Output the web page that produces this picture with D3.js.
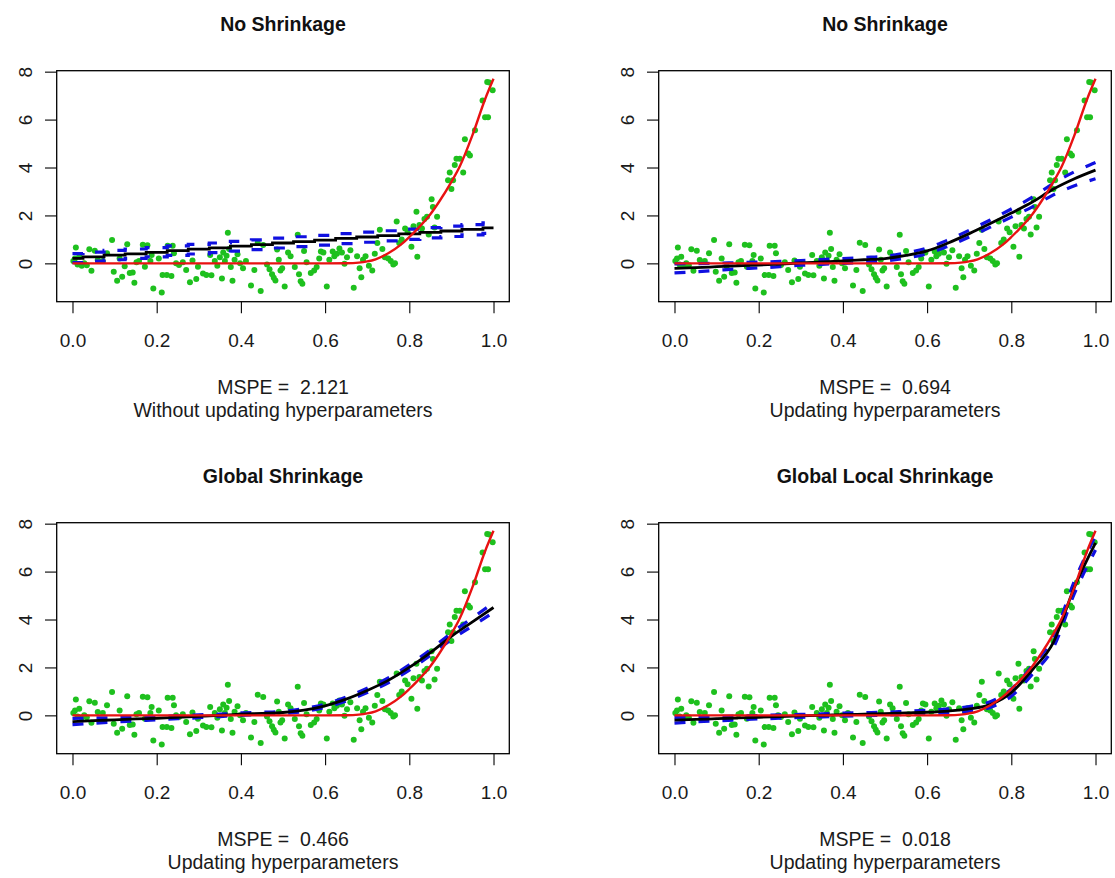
<!DOCTYPE html>
<html><head><meta charset="utf-8">
<script src="https://cdn.jsdelivr.net/npm/d3@7"></script>
<style>
body{margin:0;background:#fff}
svg{display:block}
text{font-family:"Liberation Sans",Arial,sans-serif}
</style>
</head><body>
<svg id="c" width="1115" height="878"></svg>
<script>
// ---------- data ----------
const obsX = [0.002,0.006,0.008,0.012,0.016,0.022,0.028,0.034,0.040,0.045,0.053,0.060,0.072,0.082,0.094,0.098,
0.106,0.112,0.118,0.124,0.130,0.136,0.143,0.147,0.152,0.158,0.167,0.172,0.178,0.185,0.188,0.192,
0.205,0.212,0.214,0.224,0.226,0.235,0.238,0.241,0.246,0.253,0.262,0.270,0.279,0.285,0.294,0.298,
0.310,0.318,0.327,0.330,0.338,0.344,0.350,0.355,0.358,0.362,0.366,0.369,0.372,0.376,0.380,0.385,0.392,0.398,
0.405,0.412,0.424,0.432,0.440,0.447,0.453,0.462,0.468,0.474,0.478,0.482,0.486,0.490,0.494,0.498,
0.504,0.512,0.518,0.528,0.535,0.538,0.542,0.546,0.550,0.556,0.566,0.574,0.580,0.586,0.590,0.596,
0.604,0.610,0.618,0.622,0.628,0.634,0.640,0.646,0.652,0.660,0.668,0.676,0.682,0.686,0.690,0.696,
0.704,0.712,0.718,0.724,0.730,0.736,0.742,0.750,0.756,0.762,0.766,0.770,0.776,0.782,0.790,0.796,
0.805,0.810,0.817,0.819,0.824,0.830,0.836,0.842,0.846,0.853,0.856,0.860,0.866,0.892,0.896,
0.900,0.904,0.908,0.912,0.920,0.928,0.932,0.940,0.944,0.956,0.974,0.980,0.987,0.985,0.990,0.998];
const obsY = [0.10,0.20,0.66,-0.05,0.28,-0.10,0.00,-0.08,0.59,-0.31,0.53,0.14,0.10,0.42,0.98,-0.35,
-0.73,0.20,-0.56,-0.12,0.80,-0.40,-0.38,-0.81,0.05,0.10,0.78,-0.14,0.76,0.10,0.35,-1.05,
0.20,-1.22,-0.49,-0.49,0.73,-0.53,0.73,0.42,0.00,-0.07,0.05,-0.28,-0.79,0.12,-0.65,-0.14,
-0.42,-0.49,0.35,-0.50,0.10,-0.10,0.25,-0.63,0.45,0.10,0.32,1.28,0.60,-0.15,-0.73,0.15,0.38,0.00,
-0.20,0.10,-0.92,-0.28,0.86,-1.15,0.77,-0.05,-0.25,-0.45,-0.60,-0.72,0.58,0.15,-0.30,-0.20,
-0.97,0.45,0.30,-0.15,1.19,-0.45,-0.75,-0.85,0.52,0.05,-0.40,-0.30,-0.15,0.20,0.50,0.45,
-0.97,0.15,0.50,0.30,0.40,0.62,0.45,-0.02,0.25,0.55,-1.02,0.30,-0.20,-0.58,0.15,0.30,
-0.10,-0.30,0.40,0.85,1.40,0.60,0.25,0.20,0.10,-0.05,0.00,1.75,0.85,1.00,1.45,1.30,
0.69,1.55,2.15,0.28,1.60,1.45,1.85,1.95,1.20,2.68,2.35,1.50,1.95,3.47,3.79,
3.10,3.47,4.10,4.37,4.37,3.79,5.18,4.58,4.50,5.55,6.80,6.10,6.10,7.57,7.55,7.22];

const trueX = [0,0.1,0.2,0.3,0.4,0.5,0.6,0.65,0.68,0.70,0.72,0.75,0.78,0.80,0.82,0.85,0.87,0.90,0.92,0.95,0.98,1.0];
const trueY = [0,0,0,0,0,0,0,0.005,0.03,0.08,0.17,0.42,0.78,1.10,1.45,2.05,2.55,3.40,4.05,5.35,6.85,7.70];

const fitX = [0,0.05,0.10,0.15,0.20,0.25,0.30,0.35,0.40,0.45,0.50,0.55,0.60,0.65,0.70,0.75,0.80,0.85,0.90,0.95,1.00];

const fit1 = [0.21,0.27,0.34,0.40,0.46,0.53,0.59,0.65,0.72,0.78,0.85,0.91,0.97,1.04,1.10,1.16,1.23,1.29,1.35,1.42,1.48];
const up1  = [0.41,0.47,0.54,0.60,0.66,0.73,0.79,0.85,0.92,0.98,1.05,1.11,1.17,1.24,1.30,1.36,1.43,1.49,1.55,1.62,1.69];
const lo1  = [0.03,0.09,0.15,0.21,0.27,0.33,0.39,0.45,0.51,0.57,0.64,0.70,0.76,0.82,0.88,0.94,1.00,1.06,1.12,1.19,1.25];

const fit2 = [-0.21,-0.18,-0.14,-0.10,-0.07,-0.03,0.02,0.06,0.10,0.15,0.20,0.33,0.52,0.85,1.24,1.66,2.10,2.56,3.10,3.53,3.89];
const up2  = [-0.02,-0.01,0.01,0.03,0.05,0.08,0.12,0.16,0.20,0.25,0.30,0.44,0.64,0.98,1.38,1.81,2.27,2.76,3.34,3.82,4.21];
const lo2  = [-0.40,-0.35,-0.29,-0.23,-0.19,-0.14,-0.08,-0.04,0.00,0.05,0.10,0.22,0.40,0.72,1.10,1.51,1.93,2.36,2.86,3.24,3.53];

const fit3 = [-0.26,-0.22,-0.19,-0.15,-0.12,-0.08,-0.04,0.00,0.05,0.08,0.12,0.22,0.40,0.68,1.04,1.46,2.00,2.62,3.30,3.90,4.50];
const up3  = [-0.13,-0.11,-0.10,-0.07,-0.05,-0.02,0.02,0.05,0.10,0.13,0.17,0.28,0.47,0.76,1.13,1.56,2.11,2.74,3.44,4.07,4.70];
const lo3  = [-0.39,-0.33,-0.28,-0.23,-0.19,-0.14,-0.10,-0.05,0.00,0.03,0.07,0.16,0.33,0.60,0.95,1.36,1.89,2.50,3.16,3.73,4.30];

const fit4 = [-0.20,-0.17,-0.14,-0.11,-0.08,-0.05,-0.02,0.00,0.03,0.05,0.07,0.10,0.13,0.18,0.27,0.45,0.95,1.90,3.05,5.35,7.20];
const up4  = [-0.08,-0.07,-0.05,-0.03,-0.01,0.02,0.04,0.06,0.09,0.11,0.13,0.17,0.21,0.27,0.37,0.57,1.10,2.08,3.27,5.61,7.50];
const lo4  = [-0.32,-0.27,-0.23,-0.19,-0.15,-0.12,-0.08,-0.06,-0.03,-0.01,0.01,0.03,0.05,0.09,0.17,0.33,0.80,1.72,2.83,5.09,6.90];

const titles = ["No Shrinkage","No Shrinkage","Global Shrinkage","Global Local Shrinkage"];
const mspe = ["2.121","0.694","0.466","0.018"];
const subtitles = ["Without updating hyperparameters","Updating hyperparameters","Updating hyperparameters","Updating hyperparameters"];
const xTicks = [0,0.2,0.4,0.6,0.8,1.0];
const yTicks = [0,2,4,6,8];

// ---------- drawing ----------
const fits = [[fit1,up1,lo1],[fit2,up2,lo2],[fit3,up3,lo3],[fit4,up4,lo4]];
const offX = [0,602,0,602], offY = [0,0,452,452];
const box = {l:56.7, r:509.3, t:70.7, b:301.7};
const COL = {green:"#1ec01e", blue:"#1010e0", red:"#e81212", black:"#000"};

const svg = d3.select("#c");
svg.append("rect").attr("width",1115).attr("height",878).attr("fill","#fff");

fits.forEach((f,i)=>{
  const g = svg.append("g").attr("transform",`translate(${offX[i]},${offY[i]})`);
  const x = d3.scaleLinear().domain([-0.0375,1.0375]).range([box.l,box.r]);
  const y = d3.scaleLinear().domain([-1.60,8.04]).range([box.b,box.t]);

  const cid = "clip"+i;
  g.append("clipPath").attr("id",cid).append("rect")
    .attr("x",box.l).attr("y",box.t).attr("width",box.r-box.l).attr("height",box.b-box.t);
  const plot = g.append("g").attr("clip-path",`url(#${cid})`);

  // observations
  plot.append("g").selectAll("circle").data(obsX.map((v,k)=>[v,obsY[k]])).join("circle")
    .attr("cx",d=>x(d[0])).attr("cy",d=>y(d[1])).attr("r",3).attr("fill",COL.green);

  const curve = i===0 ? d3.curveStep : d3.curveMonotoneX;
  const line = d3.line().x(d=>x(d[0])).y(d=>y(d[1])).curve(curve);
  const [fit,up,lo] = f;
  [up,lo].forEach(arr=>{
    plot.append("path").attr("d",line(fitX.map((v,k)=>[v,arr[k]])))
      .attr("fill","none").attr("stroke",COL.blue).attr("stroke-width",3.2)
      .attr("stroke-dasharray","11,13");
  });
  plot.append("path").attr("d",line(fitX.map((v,k)=>[v,fit[k]])))
    .attr("fill","none").attr("stroke",COL.black).attr("stroke-width",2.8);

  const tline = d3.line().x(d=>x(d[0])).y(d=>y(d[1])).curve(d3.curveMonotoneX);
  plot.append("path").attr("d",tline(trueX.map((v,k)=>[v,trueY[k]])))
    .attr("fill","none").attr("stroke",COL.red).attr("stroke-width",2.4);

  // box
  g.append("rect").attr("x",box.l).attr("y",box.t).attr("width",box.r-box.l).attr("height",box.b-box.t)
    .attr("fill","none").attr("stroke","#000").attr("stroke-width",1.3);

  // axes
  const xa = g.append("g").attr("transform",`translate(0,${box.b})`)
    .call(d3.axisBottom(x).tickValues(xTicks).tickFormat(d3.format(".1f")).tickSize(11.6).tickSizeOuter(0));
  xa.select(".domain").remove();
  xa.selectAll("line").attr("stroke","#000").attr("stroke-width",1.1);
  xa.selectAll("text").attr("y",45.3).attr("dy",null).attr("fill","#1a1a1a")
    .style("font-size","19px").style("font-family","'Liberation Sans',Arial,sans-serif");

  const ya = g.append("g").attr("transform",`translate(${box.l},0)`)
    .call(d3.axisLeft(y).tickValues(yTicks).tickFormat(d3.format("d")).tickSize(11.7).tickSizeOuter(0));
  ya.select(".domain").remove();
  ya.selectAll("line").attr("stroke","#000").attr("stroke-width",1.1);
  ya.selectAll("text").attr("transform","rotate(-90)").attr("x",0).attr("y",-25.2).attr("dy",null)
    .attr("text-anchor","middle").attr("fill","#1a1a1a")
    .style("font-size","19px").style("font-family","'Liberation Sans',Arial,sans-serif");

  const cx = (box.l+box.r)/2;
  g.append("text").attr("x",cx).attr("y",30.7).attr("text-anchor","middle")
    .style("font-size","19.5px").style("font-weight","bold").attr("fill","#111").text(titles[i]);
  g.append("text").attr("x",cx).attr("y",394).attr("text-anchor","middle")
    .style("font-size","19.5px").style("white-space","pre").attr("xml:space","preserve").attr("fill","#1a1a1a")
    .text("MSPE =  " + mspe[i]);
  g.append("text").attr("x",cx).attr("y",416.5).attr("text-anchor","middle")
    .style("font-size","19.5px").attr("fill","#1a1a1a").text(subtitles[i]);
});
</script>
</body></html>
